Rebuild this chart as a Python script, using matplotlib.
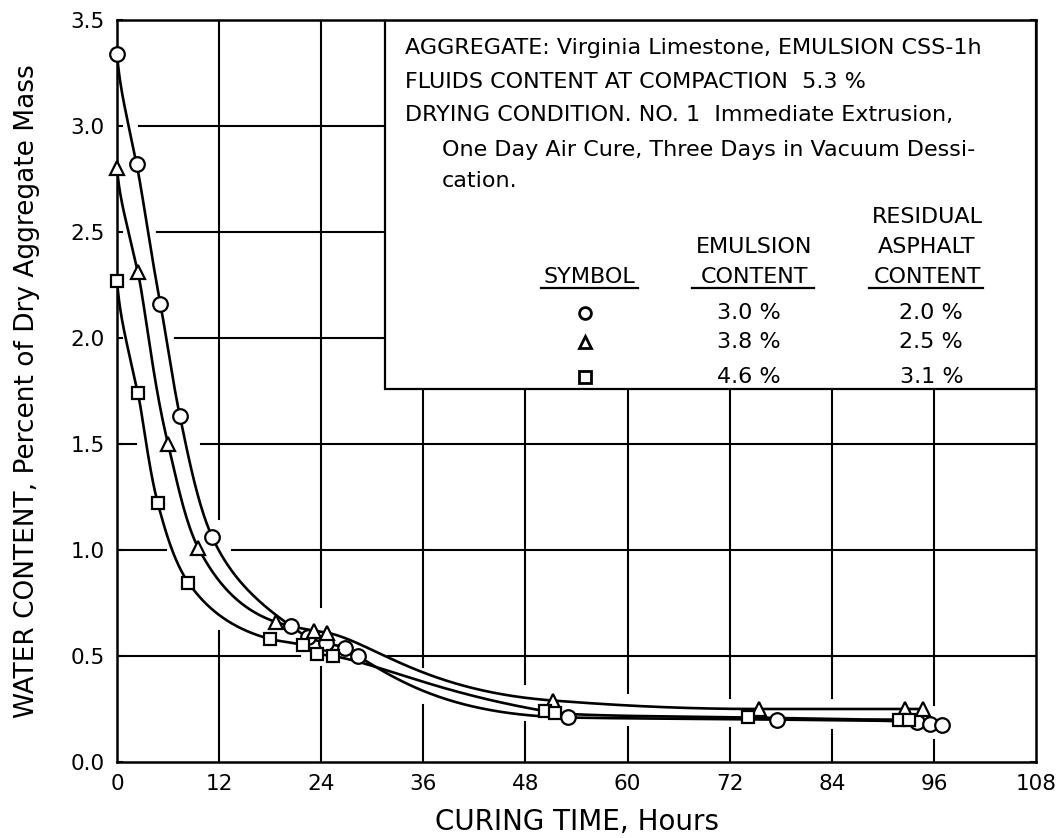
import numpy as np
import matplotlib
matplotlib.use("Agg")
import matplotlib.pyplot as plt
from matplotlib.patches import Rectangle

plt.rcParams.update({
    "font.family": "DejaVu Sans",
    "axes.linewidth": 1.8,
    "axes.edgecolor": "black",
})

# Water content (%) vs curing time (h) for three emulsion contents
circ_x = [0, 2.3, 5.1, 7.4, 11.2, 20.5, 22.4, 24.6, 26.8, 28.3, 53.0, 77.6, 94.0, 95.5, 97.0]
circ_y = [3.34, 2.82, 2.16, 1.63, 1.06, 0.64, 0.59, 0.56, 0.54, 0.50, 0.21, 0.20, 0.19, 0.18, 0.175]

tri_x = [0, 2.45, 6.0, 9.55, 18.7, 23.1, 24.7, 51.2, 75.4, 92.6, 94.7]
tri_y = [2.80, 2.31, 1.50, 1.01, 0.66, 0.62, 0.61, 0.29, 0.25, 0.25, 0.25]

sq_x = [0, 2.45, 4.8, 8.4, 18.0, 21.9, 23.5, 25.4, 50.3, 51.5, 74.2, 91.9, 93.1]
sq_y = [2.27, 1.74, 1.22, 0.845, 0.58, 0.55, 0.51, 0.50, 0.24, 0.23, 0.21, 0.20, 0.20]

x_ticks = [0, 12, 24, 36, 48, 60, 72, 84, 96, 108]
y_ticks = [0.0, 0.5, 1.0, 1.5, 2.0, 2.5, 3.0, 3.5]

emulsion_content = ["3.0 %", "3.8 %", "4.6 %"]
residual_content = ["2.0 %", "2.5 %", "3.1 %"]
symbols = ["o", "^", "s"]

# hand-drawn grid: lines are broken where the curves pass
h_grid = {3.0: [(2.6, 108)], 2.5: [(4.7, 108)], 2.0: [(6.8, 108)],
          1.5: [(0, 2.2), (9.9, 108)], 1.0: [(0, 5.8), (13.5, 108)],
          0.5: [(0, 21.5), (31.8, 108)]}
v_grid = {12: [(0, 0.62), (1.145, 3.5)], 24: [(0, 0.45), (0.73, 3.5)],
          36: [(0, 0.27), (0.45, 1.76)], 48: [(0, 0.19), (0.37, 1.76)],
          60: [(0, 0.167), (0.325, 1.76)], 72: [(0, 0.159), (0.30, 1.76)],
          84: [(0, 0.15), (0.30, 1.76)], 96: [(0, 0.103), (0.27, 1.76)]}

BOX_X0, BOX_Y0 = 31.5, 1.76


def pchip(x, y, xs):
    """Monotone cubic through the points (Fritsch-Carlson)."""
    x = np.asarray(x, float)
    y = np.asarray(y, float)
    h = np.diff(x)
    d = np.diff(y) / h
    m = np.zeros_like(y)
    m[0], m[-1] = d[0], d[-1]
    for k in range(1, len(x) - 1):
        if d[k - 1] * d[k] > 0:
            w1 = 2 * h[k] + h[k - 1]
            w2 = h[k] + 2 * h[k - 1]
            m[k] = (w1 + w2) / (w1 / d[k - 1] + w2 / d[k])
    idx = np.clip(np.searchsorted(x, xs) - 1, 0, len(x) - 2)
    t = (xs - x[idx]) / h[idx]
    h00 = 2 * t**3 - 3 * t**2 + 1
    h10 = t**3 - 2 * t**2 + t
    h01 = -2 * t**3 + 3 * t**2
    h11 = t**3 - t**2
    return (h00 * y[idx] + h10 * h[idx] * m[idx]
            + h01 * y[idx + 1] + h11 * h[idx] * m[idx + 1])


def decay_curve(x, y, n=800):
    # smooth in log-log space so the tail stays convex
    xx = np.linspace(x[0], x[-1], n)
    u = np.log(np.asarray(x, float) + 1)
    v = np.log(np.asarray(y, float))
    return xx, np.exp(pchip(u, v, np.log(xx + 1)))


fig = plt.figure(figsize=(10.58, 8.38), dpi=100)
ax = fig.add_axes([0.1106, 0.0907, 0.8686, 0.8854])
ax.set_xlim(0, 108)
ax.set_ylim(0, 3.5)

for yv, segs in h_grid.items():
    for a, b in segs:
        ax.plot([a, b], [yv, yv], color="black", lw=1.5, zorder=1)
for xv, segs in v_grid.items():
    for a, b in segs:
        ax.plot([xv, xv], [a, b], color="black", lw=1.5, zorder=1)

series = [(circ_x, circ_y, "o", 10.5), (tri_x, tri_y, "^", 10.5), (sq_x, sq_y, "s", 9)]
for xs, ys, mk, ms in series:
    xx, yy = decay_curve(xs, ys)
    ax.plot(xx, yy, color="black", lw=1.9, zorder=3)
    ax.plot(xs, ys, linestyle="none", marker=mk, ms=ms, mfc="white",
            mec="black", mew=1.6, zorder=4, clip_on=False)

# information box in the upper right
ax.add_patch(Rectangle((BOX_X0, BOX_Y0), 108 - BOX_X0, 3.5 - BOX_Y0,
                       facecolor="white", edgecolor="black", lw=1.6, zorder=2.2))

fs = 16
ax.text(33.8, 3.37, "AGGREGATE: Virginia Limestone, EMULSION CSS-1h", fontsize=fs, va="center", zorder=5)
ax.text(33.8, 3.21, "FLUIDS CONTENT AT COMPACTION  5.3 %", fontsize=fs, va="center", zorder=5)
ax.text(33.8, 3.05, "DRYING CONDITION. NO. 1  Immediate Extrusion,", fontsize=fs, va="center", zorder=5)
ax.text(38.2, 2.885, "One Day Air Cure, Three Days in Vacuum Dessi-", fontsize=fs, va="center", zorder=5)
ax.text(38.2, 2.74, "cation.", fontsize=fs, va="center", zorder=5)

ax.text(95.2, 2.57, "RESIDUAL", fontsize=fs, ha="center", va="center", zorder=5)
ax.text(74.9, 2.43, "EMULSION", fontsize=fs, ha="center", va="center", zorder=5)
ax.text(95.2, 2.43, "ASPHALT", fontsize=fs, ha="center", va="center", zorder=5)
ax.text(55.5, 2.29, "SYMBOL", fontsize=fs, ha="center", va="center", zorder=5)
ax.text(74.9, 2.29, "CONTENT", fontsize=fs, ha="center", va="center", zorder=5)
ax.text(95.2, 2.29, "CONTENT", fontsize=fs, ha="center", va="center", zorder=5)
for a, b in [(49.8, 61.2), (67.6, 81.9), (88.4, 101.8)]:
    ax.plot([a, b], [2.235, 2.235], color="black", lw=1.6, zorder=5)

row_y = [2.12, 1.98, 1.815]
for ry, sym, em, res in zip(row_y, symbols, emulsion_content, residual_content):
    ax.plot([55.0], [ry], linestyle="none", marker=sym, ms=8.5, mfc="white",
            mec="black", mew=2.0, zorder=5)
    ax.text(74.3, ry, em, fontsize=fs, ha="center", va="center", zorder=5)
    ax.text(95.7, ry, res, fontsize=fs, ha="center", va="center", zorder=5)

ax.set_xticks(x_ticks)
ax.set_yticks(y_ticks)
ax.set_xticklabels([str(v) for v in x_ticks])
ax.set_yticklabels([f"{v:.1f}" for v in y_ticks])
ax.tick_params(axis="x", length=0, pad=9, labelsize=15.5)
ax.tick_params(axis="y", direction="in", length=4, width=1.5, left=True, right=True,
               pad=9, labelsize=15.5)

ax.set_xlabel("CURING TIME, Hours", fontsize=20)
ax.set_ylabel("WATER CONTENT, Percent of Dry Aggregate Mass", fontsize=19)
ax.xaxis.set_label_coords(0.5, -0.062)
ax.yaxis.set_label_coords(-0.084, 0.5)

fig.savefig("out.png", dpi=100, facecolor="white")
